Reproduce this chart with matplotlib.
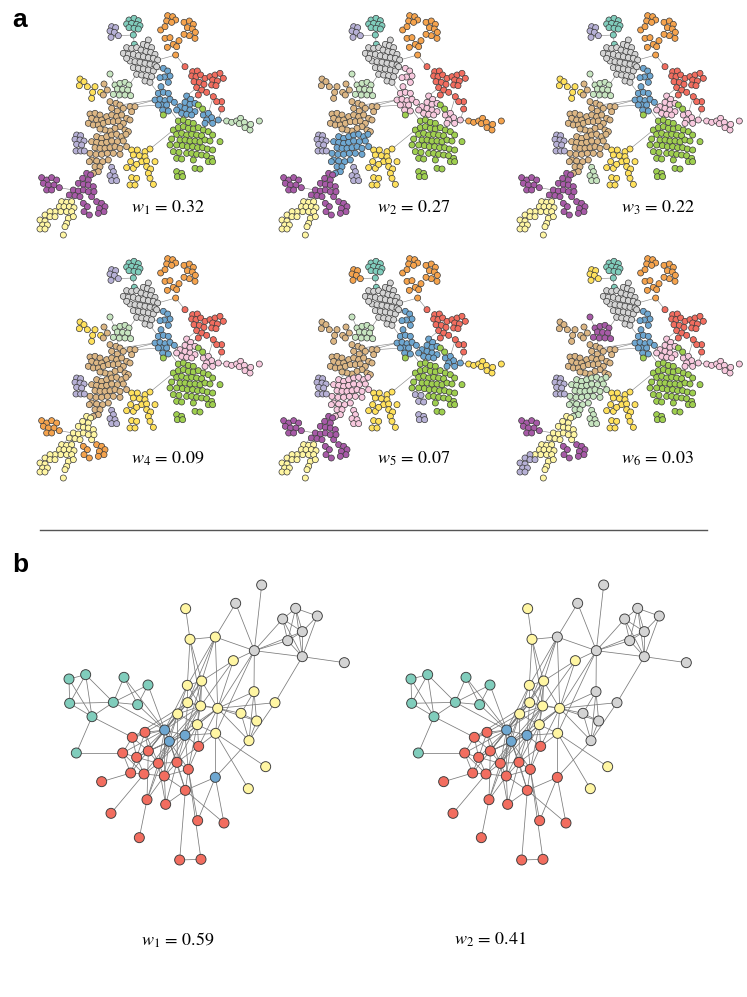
import numpy as np
import matplotlib.pyplot as plt
from matplotlib.collections import LineCollection

plt.rcParams["mathtext.fontset"] = "stix"

W, H = 747, 997

# ---------------- panel a: node positions (3x pixel units inside a 245x240 tile) ----------------
T = [(297,45),(312,40),(325,47),(290,57),(305,55),(320,58),(330,62),(297,68),(312,70),(325,72),(310,90),(313,118)]
L1 = [(245,65),(257,68),(240,78),(253,82),(243,97),(265,92)]
O = [(413,32),(428,35),(437,45),(410,48),(425,52),(392,75),(405,100),(420,98),(430,118),(412,127),(440,125),
     (437,150),(462,52),(478,48),(490,58),(472,68),(487,72),(496,82),(478,92),(495,100),(462,88),(447,107),(405,65)]
G = [(355,105),(340,118),(352,122),(365,128),(290,128),(305,130),(320,128),(333,135),(348,140),(362,142),
     (375,148),(280,145),(295,148),(310,148),(325,152),(340,155),(355,158),(370,160),(383,165),(300,168),
     (315,170),(330,172),(345,175),(360,178),(375,180),(310,188),(325,190),(340,192),(355,195),(370,198),
     (320,208),(335,210),(350,212),(365,215),(345,228),(360,232),(290,160),(380,185)]
R = [(465,185),(488,200),(502,198),(485,213),(498,215),(512,210),(525,220),(492,230),(508,232),(522,238),
     (540,215),(555,210),(570,205),(580,220),(548,225),(562,228),(545,240),(558,242),(500,248),(515,255),
     (530,262),(505,270),(550,275),(575,290),(560,290),(575,312)]
B1 = [(400,190),(413,198),(420,213),(403,216),(390,218),(415,232),(393,245)]
B2 = [(385,265),(400,262),(415,265),(375,285),(390,283),(405,287),(420,283),(433,292),(395,300),(410,300),
      (398,315),(415,318),(385,300)]
B3 = [(470,273),(482,283),(465,292),(480,298),(495,295),(450,305),(465,310),(480,315),(495,320),(455,325),
      (470,328),(440,315),(485,330)]
B4 = [(520,330),(535,325),(545,338),(530,345),(548,355),(565,345),(525,355)]
LGR = [(590,348),(605,352),(620,348),(632,340),(628,356),(643,352),(645,368),(660,375),(662,358),(688,348)]
LGM = [(240,207),(255,240),(270,235),(285,232),(297,240),(262,252),(278,253),(293,255),(268,270),(285,270),
       (302,272),(250,268)]
Y1 = [(150,222),(162,230),(148,242),(172,245),(195,245),(188,262),(212,262),(185,280)]
TU = [(222,237),(232,255),(220,270),(240,290),(258,295),(270,300),(245,310),(262,318),(280,310),(300,305),
      (315,305),(305,320),(180,327),(195,325),(210,330),(185,340),(200,345),(215,345),(230,335),(245,330),
      (260,335),(275,330),(290,340),(300,345),(175,355),(190,360),(205,360),(220,355),(235,350),(250,350),
      (265,348),(280,355),(270,365),(285,375),(295,380),(255,370),(240,378),(225,375),(210,372)]
TL = [(200,395),(215,400),(230,395),(245,390),(260,388),(275,395),(288,388),(185,410),(200,412),(215,415),
      (230,412),(245,408),(262,410),(280,408),(195,428),(210,430),(225,430),(240,428),(255,425),(270,430),
      (290,425),(180,445),(198,448),(215,448),(232,445),(250,445),(270,448),(185,465),(200,468),(218,470),
      (235,465),(195,485),(210,485),(205,500),(178,470),(190,505)]
L2 = [(140,390),(152,392),(135,403),(150,405),(162,408),(140,418),(155,420),(138,438),(152,438),(163,438)]
L3 = [(245,487),(250,500),(240,512),(255,515),(245,527),(260,527)]
YC = [(305,435),(322,435),(345,440),(360,432),(310,450),(328,452),(345,455),(335,470),(350,468),(302,470),
      (375,470),(290,488),(310,490),(320,478),(350,485),(362,492),(305,518),(320,520),(355,505),(300,540),
      (315,540),(370,538),(360,520)]
GR = [(400,330),(505,300),(518,312),(445,348),(460,345),(475,352),(490,355),(430,375),(445,368),(460,365),
      (475,370),(490,372),(505,368),(520,375),(535,380),(440,388),(455,385),(470,390),(485,388),(500,390),
      (515,392),(548,390),(425,402),(450,405),(465,405),(480,408),(495,408),(510,410),(525,405),(540,408),
      (570,410),(420,420),(440,420),(457,422),(472,425),(488,425),(503,428),(518,428),(532,432),(548,435),
      (470,445),(485,445),(500,448),(515,450),(530,452),(545,460),(490,465),(535,470),(548,470),(495,490),
      (510,492)]
GRL = [(430,440),(447,442),(440,460),(455,462),(440,500),(455,505),(442,515),(458,515)]
P1 = [(35,518),(50,525),(65,518),(80,525),(40,535),(55,540),(72,540),(88,548),(50,555),(65,555)]
P2 = [(170,505),(182,510),(158,520),(175,525),(145,535),(160,538),(175,540),(190,545),(130,555),(145,558),
      (160,555),(175,560),(118,570),(135,572),(150,575),(185,575),(192,560)]
P3 = [(160,595),(172,605),(162,620),(178,630),(200,590),(215,595),(225,605),(208,610),(222,620),(205,625)]
LY = [(95,590),(110,592),(125,590),(88,605),(102,605),(118,605),(132,608),(92,620),(110,620),(125,620),
      (75,620),(115,640),(110,655),(105,665),(100,690),(130,635)]
LY1 = [(60,620),(45,630),(60,635),(75,635),(30,645),(45,648),(38,660),(52,660),(30,672),(45,672)]

group_names = ["T","L1","O","G","R","B1","B2","B3","B4","LGR","LGM","Y1","TU","TL","L2","L3","YC","GR",
               "GRL","P1","P2","P3","LY","LY1"]
group_nodes = [T,L1,O,G,R,B1,B2,B3,B4,LGR,LGM,Y1,TU,TL,L2,L3,YC,GR,GRL,P1,P2,P3,LY,LY1]

# longer links between groups that are visible in the drawing
bridges_a = [("T",11,"G",4),("T",11,"G",5),("L1",5,"T",10),("T",10,"T",11),("O",11,"G",18),("O",11,"R",0),
             ("G",33,"B1",4),("G",35,"B2",0),("G",30,"LGM",4),("B1",6,"B2",1),("B2",3,"TU",9),
             ("B2",12,"TU",10),("B2",3,"TU",5),("B2",7,"B3",11),("B2",11,"GR",0),("R",21,"B3",1),
             ("R",18,"B3",0),("R",22,"B4",1),("R",25,"B4",5),("B4",5,"LGR",0),("YC",3,"GR",7),
             ("TL",20,"YC",0),("L2",4,"TL",7),("L3",0,"TL",30),("TL",35,"P2",0),("P1",7,"P2",8),
             ("P2",12,"LY",0),("P2",13,"LY",1),("P2",15,"P3",4),("P2",14,"P3",0),("Y1",6,"TU",2),
             ("LGM",8,"TU",4),("LGM",0,"LGM",1),("B3",9,"GR",4),("B4",6,"GR",13),("LY",10,"LY1",0),
             ("G",29,"B1",0),("B2",9,"GR",3),("TU",34,"TL",6),("TU",37,"TL",0)]

# community of every group in the six partitions
comm_w1 = ["teal","lav","orange","gray","red","blue","blue","blue","blue","lgreen","lgreen","yellow","tan","tan",
           "lav","lav","yellow","green","green","purple","purple","purple","lyellow","lyellow"]
comm_w2 = ["teal","lav","orange","gray","red","pink","pink","pink","pink","orange","lgreen","tan","tan","blue",
           "lav","lav","yellow","green","green","purple","purple","purple","lyellow","lyellow"]
comm_w3 = ["teal","lav","orange","gray","red","blue","blue","pink","pink","pink","lgreen","yellow","tan","tan",
           "lav","lgreen","yellow","green","green","purple","purple","purple","lyellow","lyellow"]
comm_w4 = ["teal","lav","orange","gray","red","blue","blue","pink","pink","pink","lgreen","yellow","tan","tan",
           "lav","lav","yellow","green","green","orange","lyellow","orange","lyellow","lyellow"]
comm_w5 = ["teal","orange","orange","gray","red","blue","blue","blue","blue","yellow","lgreen","tan","tan","pink",
           "lav","pink","yellow","green","lav","purple","purple","purple","lyellow","lyellow"]
comm_w6 = ["teal","yellow","orange","gray","red","blue","blue","pink","pink","pink","purple","tan","tan","lgreen",
           "lav","lgreen","yellow","green","green","purple","lyellow","purple","lyellow","lav"]
weights_a = [0.32, 0.27, 0.22, 0.09, 0.07, 0.03]

# ---------------- panel b ----------------
B_GRAY = [(620,45),(542,100),(722,115),(683,147),(787,138),(742,185),(698,212),(598,242),(742,260),(868,278)]
B_YEL = [(392,116),(405,208),(481,201),(535,272),(397,346),(440,333),(597,365),(398,398),(437,408),(488,415),
         (660,398),(368,432),(558,430),(605,453),(427,464),(482,490),(582,512),(632,590),(580,656)]
B_TEAL = [(42,327),(92,314),(207,322),(279,345),(44,400),(175,397),(248,404),(111,440),(64,549)]
B_BLUE = [(329,480),(390,496),(343,514),(481,622)]
B_RED = [(232,502),(270,487),(431,529),(203,549),(280,543),(245,562),(310,580),(366,577),(400,598),(227,609),
         (267,612),(328,618),(140,635),(391,661),(276,689),(332,703),(168,730),(428,752),(507,759),(253,803),
         (374,870),(438,868)]

edges_b = """
g0-g7 g1-g7 g1-y2 g2-g3 g2-g4 g2-g5 g2-g6 g3-g5 g3-g6 g3-g7 g3-g8 g4-g5 g4-g8 g5-g6 g5-g8 g5-g7 g6-g7 g6-g8
g7-g8 g8-g9 g8-y10 g2-g8 y2-g7 y1-y2 y0-y1 y1-y4 y1-y5 y1-y8 y2-y5 y2-y4 y2-y7 y3-y8 y3-g7 g7-y9 g7-y6
g7-y15 y3-y5 y4-y5 y4-y7 y4-y8 y4-y11 y5-y7 y5-y8 y5-y9 y5-y14 y7-y8 y7-y11 y7-y9 y8-y9 y8-y14 y8-y11 y9-y14
y9-y15 y9-y6 y9-y10 y9-y12 y9-y13 y9-y16 y6-y12 y6-y13 y6-y16 y12-y13 y12-y16 y13-y16 y10-y16 y11-y14 y14-y15
y15-y17 y15-y18 y15-b3 y16-b3 b0-y4 b0-y7 b0-y11 b0-y8 b1-y8 b1-y9 b1-y14 b1-y15 b1-y7 b2-y11 b2-y8 b2-y9
b1-y5 b0-y5 b0-b1 b0-b2 b1-b2 t2-b0 t3-b0 t6-b0 t5-b0 b0-r0 b0-r1 b0-r3 b0-r4 b0-r5 b0-r6 b0-r7 b0-r11 b0-r9
b1-r2 b1-r7 b1-r8 b1-r6 b1-r4 b1-r11 b2-r4 b2-r5 b2-r6 b2-r7 b2-r8 b2-r10 b2-r11 b2-r13 b2-r14 r0-r1 r0-r3
r0-r4 r0-r5 r1-r4 r1-r5 r3-r5 r3-r9 r4-r5 r4-r6 r5-r6 r5-r9 r5-r10 r6-r7 r6-r10 r6-r11 r7-r8 r7-r11 r8-r11
r9-r10 r9-r12 r10-r11 r10-r16 r11-r14 r11-r15 r6-r14 r13-r8 r13-r7 r13-r11 r13-r15 r2-r7 r2-r8 r2-y15 r2-y14
r8-r17 r13-r18 b3-r13 b3-r17 b3-r18 r14-r19 r13-r20 r8-r21 r20-r21 r4-r14 r15-r7 r15-r6 r7-y11 r7-y14 r6-y11
r4-y11 r2-y9 r8-y14 r1-y11 r0-y7 r4-y7 r6-y8 t0-t1 t0-t4 t0-t7 t1-t4 t1-t7 t1-t5 t4-t5 t4-t7 t5-t7 t5-t2 t5-t3
t5-t6 t3-t6 t2-t6 t7-t8 t8-r3 t7-r0 y2-y9 y3-y9 r3-r10 r1-r6
"""

comm_b1 = (["gray"]*10 + ["lyellow"]*19 + ["teal"]*9 + ["blue"]*4 + ["red"]*22)
comm_b2 = (["gray"]*10 +
           ["lyellow","lyellow","gray","lyellow","lyellow","lyellow","gray","lyellow","lyellow","lyellow",
            "gray","lyellow","gray","gray","lyellow","lyellow","gray","lyellow","lyellow"] +
           ["teal"]*9 + ["blue","blue","blue","red"] + ["red"]*22)
weights_b = [0.59, 0.41]

PALETTE = {"teal": "#80cdbc", "lav": "#b7b1d6", "orange": "#f5a34d", "gray": "#d4d4d4", "red": "#f26d5f",
           "blue": "#6ea7d1", "pink": "#f8c9de", "lgreen": "#c7e5c0", "yellow": "#ffe15c", "tan": "#dcb684",
           "green": "#9fcf4f", "purple": "#a75aa7", "lyellow": "#fff6a3"}

# ---------------- build node tables ----------------
xy_a = np.array([p for nodes in group_nodes for p in nodes], dtype=float)
grp_a = np.concatenate([[i] * len(nodes) for i, nodes in enumerate(group_nodes)])
start = {}
k = 0
for name, nodes in zip(group_names, group_nodes):
    start[name] = k
    k += len(nodes)

# short links between each node and its two nearest neighbours
d = np.sqrt(((xy_a[:, None, :] - xy_a[None, :, :]) ** 2).sum(-1))
np.fill_diagonal(d, np.inf)
pairs = set()
for i in range(len(xy_a)):
    for j in np.argsort(d[i])[:2]:
        if d[i, j] < 24:
            pairs.add((min(i, j), max(i, j)))
for g1, i1, g2, i2 in bridges_a:
    pairs.add((start[g1] + i1, start[g2] + i2))
segs_a = [[xy_a[i], xy_a[j]] for i, j in pairs]

xy_b = np.array(B_GRAY + B_YEL + B_TEAL + B_BLUE + B_RED, dtype=float)
off_b = {"g": 0, "y": 10, "t": 29, "b": 38, "r": 42}
segs_b = []
for e in edges_b.split():
    u, v = e.split("-")
    segs_b.append([xy_b[off_b[u[0]] + int(u[1:])], xy_b[off_b[v[0]] + int(v[1:])]])

# ---------------- figure ----------------
fig = plt.figure(figsize=(W / 100, H / 100), dpi=100)
bg = fig.add_axes([0, 0, 1, 1])
bg.set_xlim(0, W)
bg.set_ylim(H, 0)
bg.axis("off")


def tile(x0, y0, w, h):
    ax = fig.add_axes([x0 / W, 1 - (y0 + h) / H, w / W, h / H])
    ax.set_xlim(0, w * 3)
    ax.set_ylim(h * 3, 0)
    ax.axis("off")
    return ax


comms_a = [comm_w1, comm_w2, comm_w3, comm_w4, comm_w5, comm_w6]
tile_x = [30, 272, 510]
tile_y = [5, 248]
label_x = [168, 414, 658]
label_y = [208, 459]
for n in range(6):
    r, c = divmod(n, 3)
    ax = tile(tile_x[c], tile_y[r], 245, 240)
    ax.add_collection(LineCollection(segs_a, colors="#8c8c8c", linewidths=0.45, zorder=1))
    cols = [PALETTE[comms_a[n][g]] for g in grp_a]
    ax.scatter(xy_a[:, 0], xy_a[:, 1], s=19, c=cols, edgecolors="#3a3a3a", linewidths=0.5, zorder=2)
    bg.text(label_x[c], label_y[r], rf"$w_{n + 1}\,=\,{weights_a[n]:.2f}$", fontsize=13,
            ha="center", va="center")

for n, (x0, comm) in enumerate([(55, comm_b1), (397, comm_b2)]):
    ax = tile(x0, 570, 305, 300)
    ax.add_collection(LineCollection(segs_b, colors="#7a7a7a", linewidths=0.55, zorder=1))
    ax.scatter(xy_b[:, 0], xy_b[:, 1], s=52, c=[PALETTE[v] for v in comm],
               edgecolors="#3a3a3a", linewidths=0.65, zorder=2)
    bg.text([178, 490][n], 940, rf"$w_{n + 1}\,=\,{weights_b[n]:.2f}$", fontsize=13,
            ha="center", va="center")

bg.plot([40, 707], [530, 530], color="#555555", lw=1.0)
bg.text(12, 20, "a", fontsize=19, fontweight="bold", family="Liberation Sans", va="center")
bg.text(12, 565, "b", fontsize=19, fontweight="bold", family="Liberation Sans", va="center")

fig.savefig("out.png", dpi=100)
